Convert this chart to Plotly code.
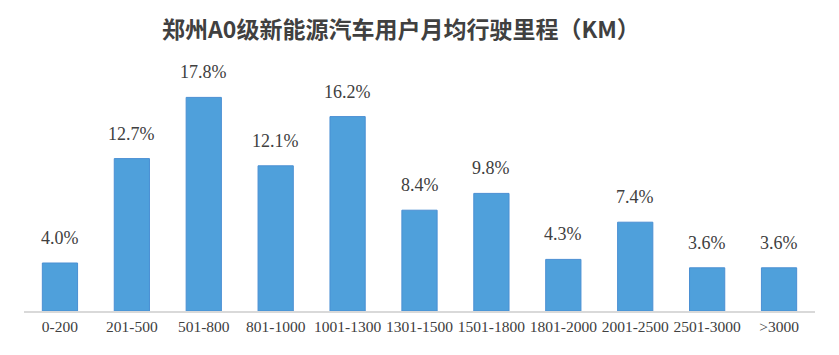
import plotly.graph_objects as go

categories = ["0-200", "201-500", "501-800", "801-1000", "1001-1300", "1301-1500",
              "1501-1800", "1801-2000", "2001-2500", "2501-3000", ">3000"]
shares = [4.0, 12.7, 17.8, 12.1, 16.2, 8.4, 9.8, 4.3, 7.4, 3.6, 3.6]
labels = [f"{v:.1f}%" for v in shares]
title_text = "郑州A0级新能源汽车用户月均行驶里程（KM）"

SERIF = "Liberation Serif"
W, H = 831, 347
fig = go.Figure()
fig.add_trace(go.Bar(
    x=categories, y=shares,
    marker=dict(color="#4fa0db", line=dict(color="#4a8fd3", width=1)),
    hoverinfo="x+y",
))
for c, v, t in zip(categories, shares, labels):
    fig.add_annotation(x=c, y=v, text=t, showarrow=False, yanchor="bottom", yshift=13,
                       font=dict(family=SERIF, size=18, color="#404040"))

fig.update_layout(
    width=W, height=H,
    margin=dict(l=16, r=24, t=75, b=44),
    paper_bgcolor="white", plot_bgcolor="white",
    bargap=0.51,
    showlegend=False,
    title=dict(text=title_text, x=396 / W, xanchor="center", xref="paper",
               y=1 - 22 / H, yref="container", yanchor="middle",
               font=dict(family="Noto Sans CJK SC", size=23, color="#404040", weight="bold")),
    xaxis=dict(showline=True, linecolor="#d9d9d9", linewidth=2, ticks="", showgrid=False,
               tickfont=dict(family=SERIF, size=15.5, color="#404040")),
    yaxis=dict(range=[0, 19], visible=False, showgrid=False),
)
fig.write_html("out.html")
